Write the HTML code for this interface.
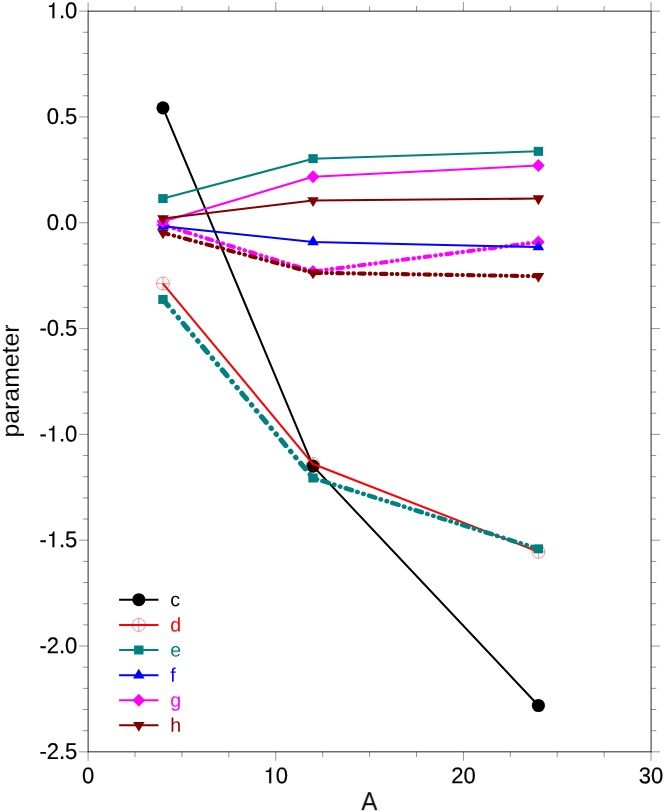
<!DOCTYPE html>
<html><head><meta charset="utf-8"><title>chart</title>
<style>html,body{margin:0;padding:0;background:#fff;overflow:hidden}svg{display:block}text{font-family:"Liberation Sans",sans-serif}</style>
</head><body>
<svg width="664" height="812" viewBox="0 0 664 812">
<rect width="664" height="812" fill="#fff"/>
<rect x="88.1" y="11.12" width="562.97" height="740.73" fill="none" stroke="#000" stroke-width="0.85"/>
<path d="M88.10 751.85v9.0M88.10 11.12v-9.0M135.01 751.85v5.2M135.01 11.12v-5.2M181.93 751.85v5.2M181.93 11.12v-5.2M228.84 751.85v5.2M228.84 11.12v-5.2M275.76 751.85v9.0M275.76 11.12v-9.0M322.67 751.85v5.2M322.67 11.12v-5.2M369.59 751.85v5.2M369.59 11.12v-5.2M416.50 751.85v5.2M416.50 11.12v-5.2M463.41 751.85v9.0M463.41 11.12v-9.0M510.33 751.85v5.2M510.33 11.12v-5.2M557.24 751.85v5.2M557.24 11.12v-5.2M604.16 751.85v5.2M604.16 11.12v-5.2M651.07 751.85v9.0M651.07 11.12v-9.0M88.1 11.12h-9.0M651.07 11.12h9.0M88.1 32.28h-5.2M651.07 32.28h5.2M88.1 53.45h-5.2M651.07 53.45h5.2M88.1 74.61h-5.2M651.07 74.61h5.2M88.1 95.77h-5.2M651.07 95.77h5.2M88.1 116.94h-9.0M651.07 116.94h9.0M88.1 138.10h-5.2M651.07 138.10h5.2M88.1 159.27h-5.2M651.07 159.27h5.2M88.1 180.43h-5.2M651.07 180.43h5.2M88.1 201.59h-5.2M651.07 201.59h5.2M88.1 222.76h-9.0M651.07 222.76h9.0M88.1 243.92h-5.2M651.07 243.92h5.2M88.1 265.08h-5.2M651.07 265.08h5.2M88.1 286.25h-5.2M651.07 286.25h5.2M88.1 307.41h-5.2M651.07 307.41h5.2M88.1 328.58h-9.0M651.07 328.58h9.0M88.1 349.74h-5.2M651.07 349.74h5.2M88.1 370.90h-5.2M651.07 370.90h5.2M88.1 392.07h-5.2M651.07 392.07h5.2M88.1 413.23h-5.2M651.07 413.23h5.2M88.1 434.39h-9.0M651.07 434.39h9.0M88.1 455.56h-5.2M651.07 455.56h5.2M88.1 476.72h-5.2M651.07 476.72h5.2M88.1 497.89h-5.2M651.07 497.89h5.2M88.1 519.05h-5.2M651.07 519.05h5.2M88.1 540.21h-9.0M651.07 540.21h9.0M88.1 561.38h-5.2M651.07 561.38h5.2M88.1 582.54h-5.2M651.07 582.54h5.2M88.1 603.70h-5.2M651.07 603.70h5.2M88.1 624.87h-5.2M651.07 624.87h5.2M88.1 646.03h-9.0M651.07 646.03h9.0M88.1 667.20h-5.2M651.07 667.20h5.2M88.1 688.36h-5.2M651.07 688.36h5.2M88.1 709.52h-5.2M651.07 709.52h5.2M88.1 730.69h-5.2M651.07 730.69h5.2M88.1 751.85h-9.0M651.07 751.85h9.0" stroke="#000" stroke-width="0.42" fill="none"/>
<path d="M162.95 107.86L313.05 466.17L538.40 705.50" fill="none" stroke="#000000" stroke-width="2.05" stroke-linejoin="round"/>
<circle cx="162.95" cy="107.86" r="6.55" fill="#000000"/>
<circle cx="313.05" cy="466.17" r="6.55" fill="#000000"/>
<circle cx="538.40" cy="705.50" r="6.55" fill="#000000"/>
<path d="M162.95 283.57L313.05 464.05L538.40 551.83" fill="none" stroke="#ff0000" stroke-width="2.05" stroke-linejoin="round"/>
<g stroke="#ff0000" stroke-width="0.42" fill="none"><circle cx="162.95" cy="283.57" r="6.5"/><path d="M156.45 283.57H169.45M162.95 277.07V290.07"/></g>
<g stroke="#ff0000" stroke-width="0.42" fill="none"><circle cx="313.05" cy="464.05" r="6.5"/><path d="M306.55 464.05H319.55M313.05 457.55V470.55"/></g>
<g stroke="#ff0000" stroke-width="0.42" fill="none"><circle cx="538.40" cy="551.83" r="6.5"/><path d="M531.90 551.83H544.90M538.40 545.33V558.33"/></g>
<line x1="162.95" y1="299.43" x2="313.05" y2="478.01" stroke="#008080" stroke-width="5.20" stroke-linecap="round" stroke-dasharray="7.32 7.52 0.5 7.34 0.5 7.26" stroke-dashoffset="29.52"/>
<line x1="313.05" y1="478.01" x2="538.40" y2="548.87" stroke="#008080" stroke-width="4.50" stroke-linecap="round" stroke-dasharray="6.60 5.52 0.5 5.79 0.5 5.52" stroke-dashoffset="14.66"/>
<rect x="158.25" y="294.93" width="9.4" height="9.0" fill="#008080"/>
<rect x="308.35" y="473.51" width="9.4" height="9.0" fill="#008080"/>
<rect x="533.70" y="544.37" width="9.4" height="9.0" fill="#008080"/>
<line x1="162.95" y1="224.89" x2="313.05" y2="271.57" stroke="#ff00ff" stroke-width="4.10" stroke-linecap="round" stroke-dasharray="5.76 5.44 0.5 5.19 0.5 5.44" stroke-dashoffset="0.00"/>
<line x1="313.05" y1="271.57" x2="538.40" y2="242.03" stroke="#ff00ff" stroke-width="4.10" stroke-linecap="round" stroke-dasharray="5.55 5.23 0.5 4.98 0.5 5.23" stroke-dashoffset="19.47"/>
<path d="M162.95 218.34L169.30 224.89L162.95 231.44L156.60 224.89Z" fill="#ff00ff"/>
<path d="M313.05 265.02L319.40 271.57L313.05 278.12L306.70 271.57Z" fill="#ff00ff"/>
<path d="M538.40 235.48L544.75 242.03L538.40 248.58L532.05 242.03Z" fill="#ff00ff"/>
<line x1="162.95" y1="232.76" x2="313.05" y2="272.80" stroke="#800000" stroke-width="4.10" stroke-linecap="round" stroke-dasharray="5.69 5.37 0.5 5.12 0.5 5.37" stroke-dashoffset="0.00"/>
<line x1="313.05" y1="272.80" x2="538.40" y2="276.23" stroke="#800000" stroke-width="4.10" stroke-linecap="round" stroke-dasharray="5.50 5.18 0.5 4.93 0.5 5.18" stroke-dashoffset="19.31"/>
<path d="M162.95 239.31L168.75 229.49L157.15 229.49Z" fill="#800000"/>
<path d="M313.05 279.35L318.85 269.53L307.25 269.53Z" fill="#800000"/>
<path d="M538.40 282.78L544.20 272.95L532.60 272.95Z" fill="#800000"/>
<path d="M162.95 198.60L313.05 158.67L538.40 151.35" fill="none" stroke="#008080" stroke-width="2.05" stroke-linejoin="round"/>
<rect x="158.25" y="194.10" width="9.4" height="9.0" fill="#008080"/>
<rect x="308.35" y="154.17" width="9.4" height="9.0" fill="#008080"/>
<rect x="533.70" y="146.85" width="9.4" height="9.0" fill="#008080"/>
<path d="M162.95 226.20L313.05 241.90L538.40 247.06" fill="none" stroke="#0000ff" stroke-width="2.05" stroke-linejoin="round"/>
<path d="M162.95 219.65L168.75 229.48L157.15 229.48Z" fill="#0000ff"/>
<path d="M313.05 235.35L318.85 245.17L307.25 245.17Z" fill="#0000ff"/>
<path d="M538.40 240.51L544.20 250.33L532.60 250.33Z" fill="#0000ff"/>
<path d="M162.95 221.59L313.05 176.82L538.40 165.52" fill="none" stroke="#ff00ff" stroke-width="2.05" stroke-linejoin="round"/>
<path d="M162.95 215.04L169.30 221.59L162.95 228.14L156.60 221.59Z" fill="#ff00ff"/>
<path d="M313.05 170.27L319.40 176.82L313.05 183.37L306.70 176.82Z" fill="#ff00ff"/>
<path d="M538.40 158.97L544.75 165.52L538.40 172.07L532.05 165.52Z" fill="#ff00ff"/>
<path d="M162.95 218.48L313.05 200.51L538.40 198.60" fill="none" stroke="#800000" stroke-width="2.05" stroke-linejoin="round"/>
<path d="M162.95 225.03L168.75 215.21L157.15 215.21Z" fill="#800000"/>
<path d="M313.05 207.06L318.85 197.23L307.25 197.23Z" fill="#800000"/>
<path d="M538.40 205.15L544.20 195.33L532.60 195.33Z" fill="#800000"/>
<path d="M119.1 599.7H158.5" stroke="#000000" stroke-width="2.05"/>
<circle cx="138.80" cy="599.70" r="6.55" fill="#000000"/>
<path d="M119.1 624.9H158.5" stroke="#ff0000" stroke-width="2.05"/>
<g stroke="#ff0000" stroke-width="0.42" fill="none"><circle cx="138.80" cy="624.90" r="6.5"/><path d="M132.30 624.90H145.30M138.80 618.40V631.40"/></g>
<path d="M119.1 650.0H158.5" stroke="#008080" stroke-width="2.05"/>
<rect x="134.10" y="645.50" width="9.4" height="9.0" fill="#008080"/>
<path d="M119.1 675.2H158.5" stroke="#0000ff" stroke-width="2.05"/>
<path d="M138.80 668.65L144.60 678.48L133.00 678.48Z" fill="#0000ff"/>
<path d="M119.1 700.2H158.5" stroke="#ff00ff" stroke-width="2.05"/>
<path d="M138.80 693.65L145.15 700.20L138.80 706.75L132.45 700.20Z" fill="#ff00ff"/>
<path d="M119.1 725.2H158.5" stroke="#800000" stroke-width="2.05"/>
<path d="M138.80 731.75L144.60 721.93L133.00 721.93Z" fill="#800000"/>
<g opacity="0.996"><text transform="translate(170.3 606.20) rotate(0.03)" font-size="19.6" fill="#000000">c</text>
<text transform="translate(170.3 631.40) rotate(0.03)" font-size="19.6" fill="#ff0000">d</text>
<text transform="translate(170.3 656.50) rotate(0.03)" font-size="19.6" fill="#008080">e</text>
<text transform="translate(170.3 681.70) rotate(0.03)" font-size="19.6" fill="#0000ff">f</text>
<text transform="translate(170.3 706.70) rotate(0.03)" font-size="19.6" fill="#ff00ff">g</text>
<text transform="translate(170.3 731.70) rotate(0.03)" font-size="19.6" fill="#800000">h</text>
<path transform="translate(46.72 18.27) scale(0.0220 -0.0223)" d="M259 0V505H102V568L184 578C243 587 275 627 293 709H350V0Z" stroke="#000" stroke-width="5.5"/>
<text transform="translate(58.95 18.27) scale(1 1.04) rotate(0.03)" font-size="22" stroke="#000" stroke-width="0.2">.0</text>
<text transform="translate(46.72 124.09) scale(1 1.04) rotate(0.03)" font-size="22" stroke="#000" stroke-width="0.2">0.5</text>
<text transform="translate(46.72 229.91) scale(1 1.04) rotate(0.03)" font-size="22" stroke="#000" stroke-width="0.2">0.0</text>
<text transform="translate(39.39 335.73) scale(1 1.04) rotate(0.03)" font-size="22" stroke="#000" stroke-width="0.2">-0.5</text>
<text transform="translate(39.39 441.54) scale(1 1.04) rotate(0.03)" font-size="22" stroke="#000" stroke-width="0.2">-</text>
<path transform="translate(46.72 441.54) scale(0.0220 -0.0223)" d="M259 0V505H102V568L184 578C243 587 275 627 293 709H350V0Z" stroke="#000" stroke-width="5.5"/>
<text transform="translate(58.95 441.54) scale(1 1.04) rotate(0.03)" font-size="22" stroke="#000" stroke-width="0.2">.0</text>
<text transform="translate(39.39 547.36) scale(1 1.04) rotate(0.03)" font-size="22" stroke="#000" stroke-width="0.2">-</text>
<path transform="translate(46.72 547.36) scale(0.0220 -0.0223)" d="M259 0V505H102V568L184 578C243 587 275 627 293 709H350V0Z" stroke="#000" stroke-width="5.5"/>
<text transform="translate(58.95 547.36) scale(1 1.04) rotate(0.03)" font-size="22" stroke="#000" stroke-width="0.2">.5</text>
<text transform="translate(39.39 653.18) scale(1 1.04) rotate(0.03)" font-size="22" stroke="#000" stroke-width="0.2">-2.0</text>
<text transform="translate(39.39 759.00) scale(1 1.04) rotate(0.03)" font-size="22" stroke="#000" stroke-width="0.2">-2.5</text>
<text transform="translate(81.98 783.30) scale(1 1.03) rotate(0.03)" font-size="22" stroke="#000" stroke-width="0.2">0</text>
<path transform="translate(263.52 783.30) scale(0.0220 -0.0223)" d="M259 0V505H102V568L184 578C243 587 275 627 293 709H350V0Z" stroke="#000" stroke-width="5.5"/>
<text transform="translate(275.76 783.30) scale(1 1.03) rotate(0.03)" font-size="22" stroke="#000" stroke-width="0.2">0</text>
<text transform="translate(451.18 783.30) scale(1 1.03) rotate(0.03)" font-size="22" stroke="#000" stroke-width="0.2">20</text>
<text transform="translate(638.84 783.30) scale(1 1.03) rotate(0.03)" font-size="22" stroke="#000" stroke-width="0.2">30</text>
<text transform="translate(369.3 810.2) scale(0.95 1) rotate(0.03)" font-size="25.5" text-anchor="middle">A</text>
<text transform="translate(18.8 381) rotate(-90)" font-size="24.8" text-anchor="middle">parameter</text></g>
</svg>
</body></html>
